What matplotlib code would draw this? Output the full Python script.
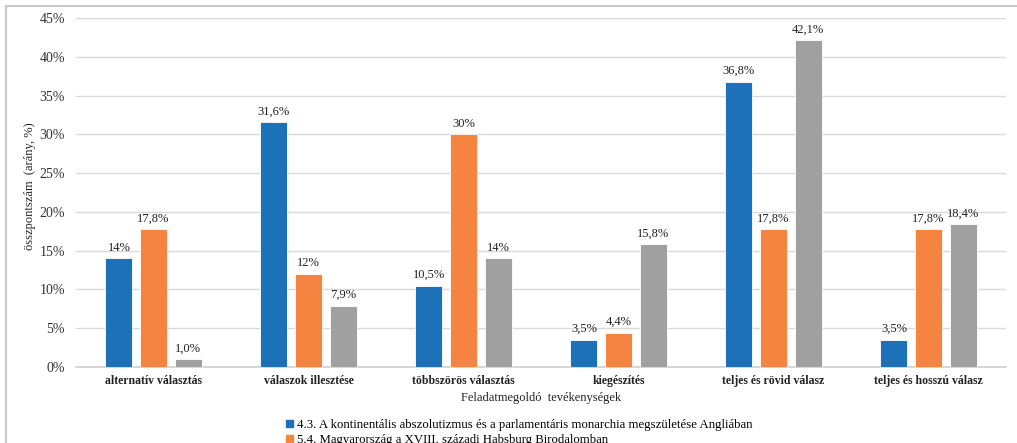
import numpy as np
import matplotlib.pyplot as plt
from matplotlib.lines import Line2D

categories = ['alternatív választás', 'válaszok illesztése', 'többszörös választás',
              'kiegészítés', 'teljes és rövid válasz', 'teljes és hosszú válasz']
series_names = ['4.3. A kontinentális abszolutizmus és a parlamentáris monarchia megszületése Angliában',
                '5.4. Magyarország a XVIII. századi Habsburg Birodalomban']
blue_vals = [14.0, 31.6, 10.5, 3.5, 36.8, 3.5]
orange_vals = [17.8, 12.0, 30.0, 4.4, 17.8, 17.8]
gray_vals = [1.0, 7.9, 14.0, 15.8, 42.1, 18.4]
blue_labels = ['14%', '31,6%', '10,5%', '3,5%', '36,8%', '3,5%']
orange_labels = ['17,8%', '12%', '30%', '4,4%', '17,8%', '17,8%']
gray_labels = ['1,0%', '7,9%', '14%', '15,8%', '42,1%', '18,4%']
yticks = [0, 5, 10, 15, 20, 25, 30, 35, 40, 45]

plt.rcParams['font.family'] = ['Liberation Serif', 'DejaVu Serif']

fig = plt.figure(figsize=(10.17, 4.43), dpi=100)
ax = fig.add_axes([76 / 1017, 1 - 367 / 443, 930 / 1017, 349 / 443])

colors = ['#1c71b9', '#f4843f', '#a0a0a0']
x = np.arange(len(categories))
w = 0.175
step = 0.223
all_vals = [blue_vals, orange_vals, gray_vals]
all_labels = [blue_labels, orange_labels, gray_labels]
for i, (vals, labs) in enumerate(zip(all_vals, all_labels)):
    pos = x + (i - 1) * step
    ax.bar(pos, vals, w, color=colors[i], edgecolor='white', linewidth=0.6, zorder=3)
    for px, v, t in zip(pos, vals, labs):
        ax.text(px, v + 0.6, t, ha='center', va='bottom', fontsize=9, color='#222222')

ax.set_xlim(-0.5, len(categories) - 0.5)
ax.set_ylim(0, 45)
ax.set_yticks(yticks)
ax.set_yticklabels([f'{t}%' for t in yticks], fontsize=10, color='#333333')
ax.set_xticks(x)
ax.set_xticklabels(categories, fontsize=8.5, fontweight='bold', color='#222222')
ax.tick_params(axis='both', length=0)
ax.tick_params(axis='x', pad=6)
ax.tick_params(axis='y', pad=8)
ax.grid(axis='y', color='#d9d9d9', linewidth=1, zorder=0)
for s in ['top', 'right', 'left']:
    ax.spines[s].set_visible(False)
ax.spines['bottom'].set_color('#d0d0d0')
ax.spines['bottom'].set_linewidth(1.2)

fig.text(30 / 1017, 1 - 186 / 443, 'összpontszám  (arány, %)', rotation=90,
         ha='center', va='center', fontsize=9, color='#222222')
fig.text(541 / 1017, 1 - 398 / 443, 'Feladatmegoldó  tevékenységek',
         ha='center', va='center', fontsize=9, color='#222222')

handles = [plt.Rectangle((0, 0), 1, 1, color=colors[0]),
           plt.Rectangle((0, 0), 1, 1, color=colors[1])]
fig.legend(handles, series_names, loc='upper left', bbox_to_anchor=(286 / 1017, 1 - 419 / 443),
           frameon=False, fontsize=9.2, handlelength=0.55, handleheight=0.55,
           handletextpad=0.3, labelspacing=0.25, borderaxespad=0, borderpad=0)

# figure frame (left and top edges visible)
fig.add_artist(Line2D([6 / 1017, 6 / 1017], [0, 1 - 6 / 443], transform=fig.transFigure,
                      color='#c8c8c8', linewidth=1.5))
fig.add_artist(Line2D([6 / 1017, 1], [1 - 6 / 443, 1 - 6 / 443], transform=fig.transFigure,
                      color='#c8c8c8', linewidth=1.5))

fig.savefig('out.png', dpi=100)
